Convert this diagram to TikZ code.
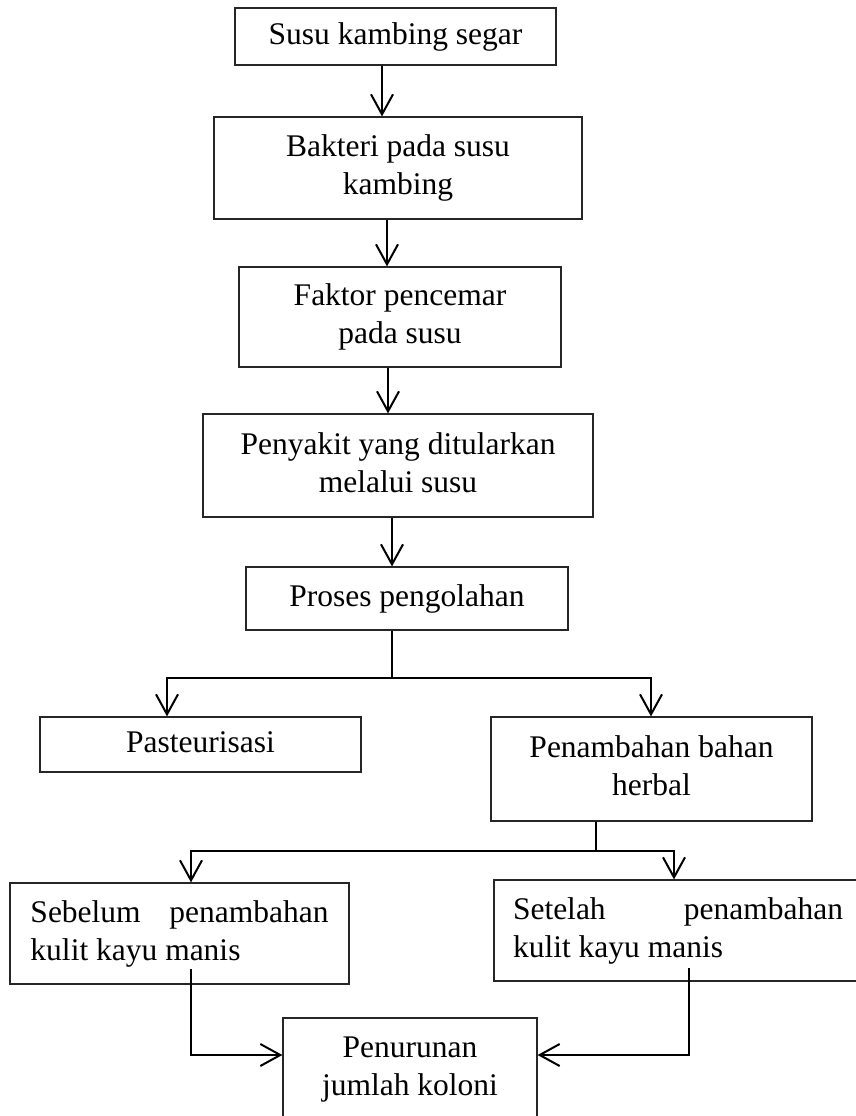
\documentclass[tikz,border=0pt]{standalone}
\usepackage{fontspec}
\setmainfont{Liberation Serif}
\usetikzlibrary{arrows.meta}
\newcommand{\ctab}[1]{\begin{tabular}{@{}c@{}}#1\end{tabular}}
\newcommand{\ltab}[1]{\begin{tabular}{@{}l@{}}#1\end{tabular}}
\begin{document}
\begin{tikzpicture}[x=1pt,y=-1pt,
  box/.style={draw=black!85, line width=1.2pt, inner sep=0pt, font=\fontsize{31.5}{38}\selectfont},
  conn/.style={line width=2pt, line join=miter},
  arr/.style={conn, -{Straight Barb[length=20pt,width=22pt]}}]
\path[use as bounding box] (0,0) rectangle (856,1116);
\clip (0,0) rectangle (856,1116);
\node[box, minimum width=321pt, minimum height=57pt] (b1) at (395.5,36.5) {\ctab{Susu kambing segar}};
\node[box, minimum width=368pt, minimum height=102pt] (b2) at (398,168) {\ctab{Bakteri pada susu\\kambing}};
\node[box, minimum width=322pt, minimum height=100pt] (b3) at (400,317) {\ctab{Faktor pencemar\\pada susu}};
\node[box, minimum width=390pt, minimum height=103pt] (b4) at (398,465.5) {\ctab{Penyakit yang ditularkan\\melalui susu}};
\node[box, minimum width=322pt, minimum height=63pt] (b5) at (407,598.5) {\ctab{Proses pengolahan}};
\node[box, minimum width=321pt, minimum height=55pt] (b6) at (200.5,744.5) {\ctab{Pasteurisasi}};
\node[box, minimum width=321pt, minimum height=104pt] (b7) at (651.5,769) {\ctab{Penambahan bahan\\herbal}};
\node[box, minimum width=339pt, minimum height=101pt] (b8) at (179.5,933.5) {\ltab{\makebox[298pt][s]{Sebelum penambahan}\\kulit kayu manis}};
\node[box, minimum width=368pt, minimum height=101pt] (b9) at (678,930.5) {\ltab{\makebox[330pt][s]{Setelah penambahan}\\kulit kayu manis}};
\node[box, minimum width=254pt, minimum height=102pt] (b10) at (410,1069) {\ctab{Penurunan\\jumlah koloni}};
% straight arrows
\coordinate (x1) at (382,0);
\coordinate (x2) at (387,0);
\coordinate (x3) at (388,0);
\coordinate (x4) at (392,0);
\draw[arr] (b1.south -| x1) -- (b2.north -| x1);
\draw[arr] (b2.south -| x2) -- (b3.north -| x2);
\draw[arr] (b3.south -| x3) -- (b4.north -| x3);
\draw[arr] (b4.south -| x4) -- (b5.north -| x4);
% fork 1
\coordinate (f1) at (392,678);
\coordinate (f1l) at (167,678);
\coordinate (f1r) at (651,678);
\draw[conn] (b5.south -| f1) -- (f1);
\draw[arr] (f1) -- (f1l) -- (b6.north -| f1l);
\draw[arr] (f1) -- (f1r) -- (b7.north -| f1r);
% fork 2
\coordinate (f2) at (596,851);
\coordinate (f2l) at (191,851);
\coordinate (f2r) at (674,851);
\draw[conn] (b7.south -| f2) -- (f2);
\draw[arr] (f2) -- (f2l) -- (b8.north -| f2l);
\draw[arr] (f2) -- (f2r) -- (b9.north -| f2r);
% join
\coordinate (j1) at (191,969);
\coordinate (j2) at (689,968);
\coordinate (jy) at (0,1055);
\draw[arr] (j1) |- (b10.west |- jy);
\draw[arr] (j2) |- (b10.east |- jy);
\end{tikzpicture}
\end{document}
